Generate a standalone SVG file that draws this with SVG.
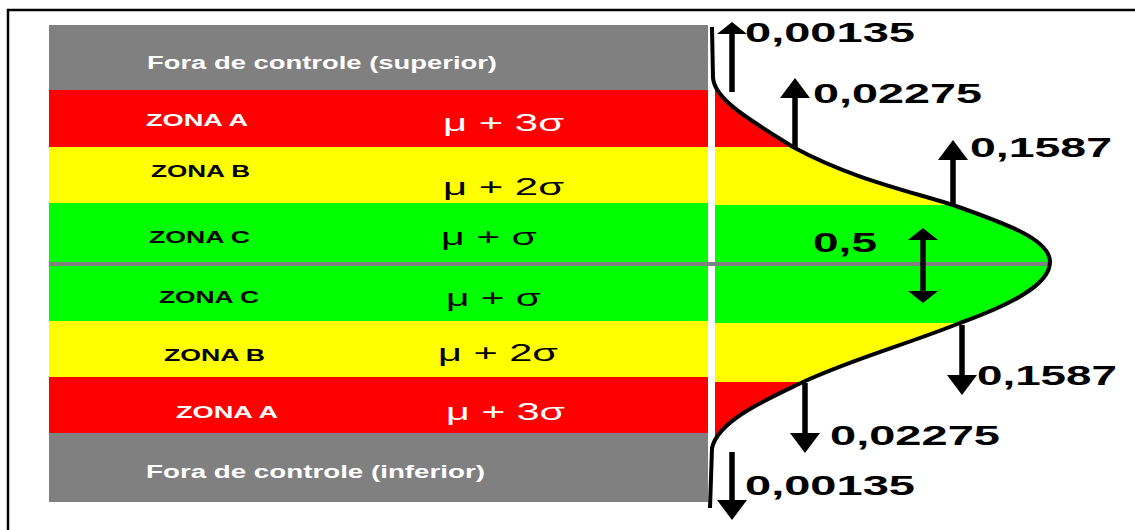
<svg xmlns="http://www.w3.org/2000/svg" width="1135" height="530" viewBox="0 0 1135 530">
<style>
.gray{fill:#808080}.red{fill:#FF0000}.yel{fill:#FFFF00}.grn{fill:#00FF00}
.zw{font-family:"Liberation Sans",Arial,sans-serif;font-weight:bold;font-size:16px;fill:#FFFFFF}
.zb{font-family:"Liberation Sans",Arial,sans-serif;font-weight:bold;font-size:16px;fill:#000000}
.fw{font-family:"Liberation Sans",Arial,sans-serif;font-weight:bold;font-size:18px;fill:#FFFFFF}
.mw{font-family:"Liberation Sans",Arial,sans-serif;font-size:23px;fill:#FFFFFF}
.mb{font-family:"Liberation Sans",Arial,sans-serif;font-size:23px;fill:#000000}
.num{font-family:"Liberation Sans",Arial,sans-serif;font-weight:bold;font-size:27px;fill:#000000}
.arr{stroke:#000;stroke-width:5.5;fill:none}
</style>
<defs>
<marker id="head" viewBox="0 0 20 30" refX="0" refY="15" markerWidth="20" markerHeight="30" markerUnits="userSpaceOnUse" orient="auto-start-reverse">
<path d="M0,0 L20,15 L0,30 Z" fill="#000"/>
</marker>
<marker id="headShort" viewBox="0 0 12 30" refX="0" refY="15" markerWidth="12" markerHeight="30" markerUnits="userSpaceOnUse" orient="auto-start-reverse">
<path d="M0,0 L12,15 L0,30 Z" fill="#000"/>
</marker>
<clipPath id="bell">
<path d="M712,27 L713,78 C715,100 750,120 793,147 C850,178 905,190 953,205 C1010,225 1050,240 1050,262 C1050,285 1010,305 960,323 C905,345 855,358 803,382 C770,398 718,420 712,448 L710,508 L715,508 L715,27 Z"/>
</clipPath>
</defs>
<rect x="0" y="0" width="1135" height="530" fill="#FFFFFF"/>
<path d="M8,530 V10 H1135" fill="none" stroke="#000" stroke-width="2.5"/>

<g id="bands">
<rect class="gray" x="49" y="25" width="659" height="65"/>
<rect class="red" x="49" y="90" width="659" height="57"/>
<rect class="yel" x="49" y="147" width="659" height="56"/>
<rect class="grn" x="49" y="203" width="659" height="59"/>
<rect class="grn" x="49" y="266" width="659" height="55"/>
<rect class="yel" x="49" y="321" width="659" height="56"/>
<rect class="red" x="49" y="377" width="659" height="56"/>
<rect class="gray" x="49" y="433" width="659" height="69"/>
</g>

<g id="bell-fill" clip-path="url(#bell)">
<rect class="red" x="715" y="90" width="340" height="57"/>
<rect class="yel" x="715" y="147" width="340" height="58"/>
<rect class="grn" x="715" y="205" width="340" height="57"/>
<rect class="grn" x="715" y="266" width="340" height="57"/>
<rect class="yel" x="715" y="323" width="340" height="59"/>
<rect class="red" x="715" y="382" width="340" height="58"/>
</g>
<rect id="mean-line" class="gray" x="49" y="262" width="1000" height="4"/>

<g id="curve">
<path d="M712,27 L713,78 C715,100 750,120 793,147 C850,178 905,190 953,205 C1010,225 1050,240 1050,262 C1050,285 1010,305 960,323 C905,345 855,358 803,382 C770,398 718,420 712,448 L710,508" fill="none" stroke="#000" stroke-width="4"/>
</g>

<g id="labels-left">
<text class="fw" x="147" y="69" textLength="350" lengthAdjust="spacingAndGlyphs">Fora de controle (superior)</text>
<text class="zw" x="146" y="126" textLength="102" lengthAdjust="spacingAndGlyphs">ZONA A</text>
<text class="mw" x="443" y="131" textLength="121" lengthAdjust="spacingAndGlyphs">μ + 3σ</text>
<text class="zb" x="151" y="177" textLength="99" lengthAdjust="spacingAndGlyphs">ZONA B</text>
<text class="mb" x="443" y="195" textLength="121" lengthAdjust="spacingAndGlyphs">μ + 2σ</text>
<text class="zb" x="149" y="243" textLength="101" lengthAdjust="spacingAndGlyphs">ZONA C</text>
<text class="mb" x="441" y="245" textLength="96" lengthAdjust="spacingAndGlyphs">μ + σ</text>
<text class="zb" x="159" y="303" textLength="100" lengthAdjust="spacingAndGlyphs">ZONA C</text>
<text class="mb" x="446" y="306" textLength="95" lengthAdjust="spacingAndGlyphs">μ + σ</text>
<text class="zb" x="164" y="361" textLength="101" lengthAdjust="spacingAndGlyphs">ZONA B</text>
<text class="mb" x="438" y="361" textLength="120" lengthAdjust="spacingAndGlyphs">μ + 2σ</text>
<text class="zw" x="176" y="418" textLength="102" lengthAdjust="spacingAndGlyphs">ZONA A</text>
<text class="mw" x="446" y="420" textLength="119" lengthAdjust="spacingAndGlyphs">μ + 3σ</text>
<text class="fw" x="146" y="478" textLength="339" lengthAdjust="spacingAndGlyphs">Fora de controle (inferior)</text>
</g>

<g id="connectors">
<line class="arr" x1="732" y1="92" x2="732" y2="34" marker-end="url(#headShort)"/>
<line class="arr" x1="795" y1="147" x2="795" y2="98" marker-end="url(#head)"/>
<line class="arr" x1="953" y1="205" x2="953" y2="160" marker-end="url(#head)"/>
<line class="arr" x1="923" y1="240" x2="923" y2="291" marker-start="url(#headShort)" marker-end="url(#headShort)"/>
<line class="arr" x1="962" y1="325" x2="962" y2="375" marker-end="url(#head)"/>
<line class="arr" x1="805" y1="383" x2="805" y2="433" marker-end="url(#head)"/>
<line class="arr" x1="732" y1="452" x2="732" y2="500" marker-end="url(#head)"/>
</g>

<g id="labels-right">
<text class="num" x="745" y="42" textLength="170" lengthAdjust="spacingAndGlyphs">0,00135</text>
<text class="num" x="813" y="103" textLength="169" lengthAdjust="spacingAndGlyphs">0,02275</text>
<text class="num" x="970" y="157" textLength="142" lengthAdjust="spacingAndGlyphs">0,1587</text>
<text class="num" x="813" y="252" textLength="64" lengthAdjust="spacingAndGlyphs">0,5</text>
<text class="num" x="977" y="385" textLength="140" lengthAdjust="spacingAndGlyphs">0,1587</text>
<text class="num" x="830" y="445" textLength="170" lengthAdjust="spacingAndGlyphs">0,02275</text>
<text class="num" x="745" y="495" textLength="170" lengthAdjust="spacingAndGlyphs">0,00135</text>
</g>
</svg>
